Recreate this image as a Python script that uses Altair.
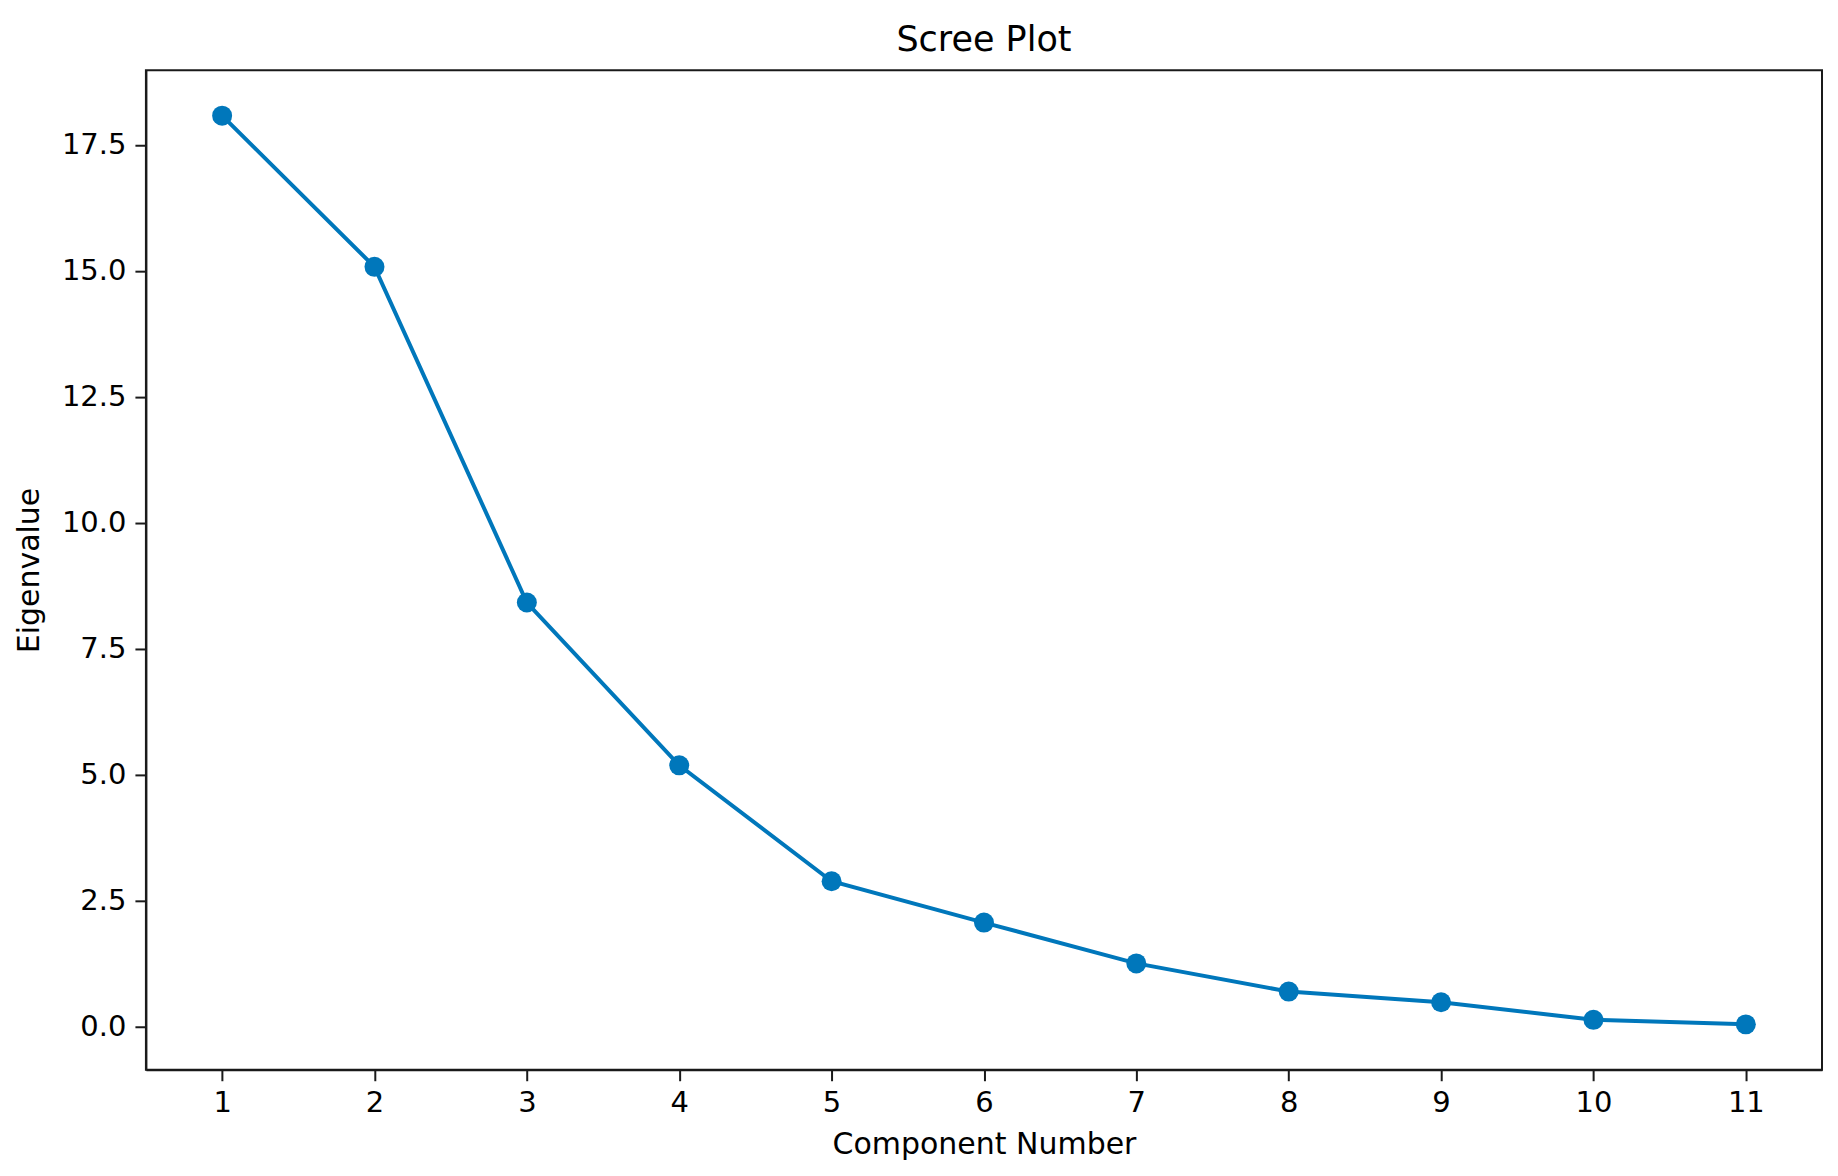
import altair as alt
import pandas as pd

components = [1, 2, 3, 4, 5, 6, 7, 8, 9, 10, 11]
eigenvalues = [18.08, 15.08, 8.42, 5.19, 2.89, 2.07, 1.26, 0.70, 0.49, 0.14, 0.05]
y_ticks = [0.0, 2.5, 5.0, 7.5, 10.0, 12.5, 15.0, 17.5]

df = pd.DataFrame({"Component": components, "Eigenvalue": eigenvalues})

FONT = "DejaVu Sans"
COLOR = "#0077BB"

x = alt.X("Component:Q",
          scale=alt.Scale(domain=[0.5, 11.5], nice=False, zero=False),
          axis=alt.Axis(title="Component Number", values=components, format="d",
                        grid=False, tickSize=11, tickWidth=2, labelPadding=8,
                        titlePadding=12))
y = alt.Y("Eigenvalue:Q",
          scale=alt.Scale(domain=[-0.85, 18.98], nice=False, zero=False),
          axis=alt.Axis(title="Eigenvalue", values=y_ticks, format=".1f",
                        grid=False, tickSize=11, tickWidth=2, labelPadding=9,
                        titlePadding=17))

base = alt.Chart(df).encode(x=x, y=y)
line = base.mark_line(color=COLOR, strokeWidth=4)
points = base.mark_point(filled=True, color=COLOR, size=400, opacity=1)

chart = (line + points).properties(
    width=1677, height=1000,
    title=alt.TitleParams("Scree Plot", font=FONT, fontSize=35, fontWeight="normal",
                          color="#000", offset=12),
    autosize=alt.AutoSizeParams(type="none"),
    padding={"left": 138, "top": 62, "right": 8, "bottom": 90},
).configure_view(
    stroke="#1a1a1a", strokeWidth=2
).configure_axis(
    labelFont=FONT, titleFont=FONT, labelFontSize=29, titleFontSize=30,
    labelColor="#000", titleColor="#000", titleFontWeight="normal",
    domainColor="#1a1a1a", domainWidth=2, tickColor="#1a1a1a",
)

chart.save("out.html", embed_options={"renderer": "svg", "actions": False})
